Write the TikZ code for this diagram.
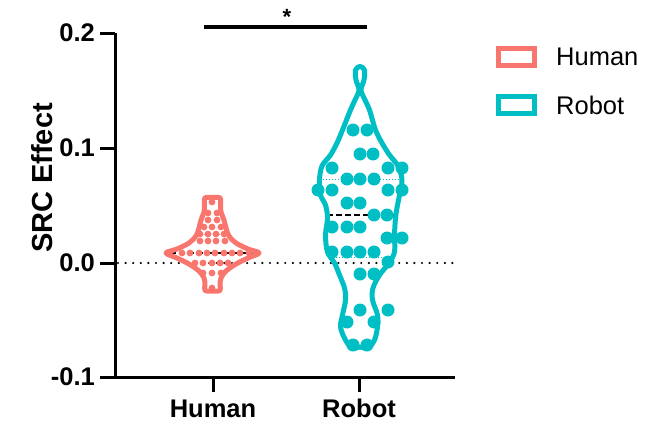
\documentclass[tikz,border=0pt]{standalone}
\usepackage{fontspec}
\setmainfont{Liberation Sans}
\definecolor{hum}{HTML}{F8766D}
\definecolor{rob}{HTML}{00BFC4}
\begin{document}
\begin{tikzpicture}[x=1pt,y=-1pt,
  axis/.style={line width=3pt,black},
  ticklab/.style={font=\fontsize{25.5}{30}\selectfont\bfseries,inner sep=0pt},
  catlab/.style={font=\fontsize{25.5}{30}\selectfont\bfseries,inner sep=0pt},
  leglab/.style={font=\fontsize{25.5}{30}\selectfont,inner sep=0pt,anchor=west},
  violin/.style={line width=5pt,line join=round},
  hdot/.style={fill=hum,draw=none},
  rdot/.style={fill=rob,draw=none},
  quart/.style={line width=1pt,dash pattern=on 1pt off 2pt},
  median/.style={line width=1.6pt,black,dash pattern=on 6pt off 3pt}]
\useasboundingbox (0,0) rectangle (658,423);
% zero line
\draw[line width=2.4pt,dash pattern=on 0pt off 7.6pt,line cap=round] (118,263) -- (455,263);
% axes
\draw[axis] (115,33) -- (115,377);
\draw[axis] (100,377) -- (455,377);
\foreach \yy/\lab in {33/0.2,148/0.1,263/0.0,377/-0.1}{
  \draw[axis] (100,\yy) -- (115,\yy);
  \node[ticklab,anchor=east] (t\yy) at (95,\yy) {\lab};
}
\draw[axis] (213,377) -- (213,392);
\draw[axis] (359,377) -- (359,392);
\node[catlab,anchor=base] (xh) at (213,417.5) {Human};
\node[catlab,anchor=base] (xr) at (359,417.5) {Robot};
\node[font=\fontsize{29}{34}\selectfont\bfseries,rotate=90,inner sep=0pt] (ylab) at (42,178) {SRC Effect};
% significance
\draw[line width=4pt] (204,27) -- (367,27);
\node[font=\fontsize{22}{26}\selectfont\bfseries,inner sep=0pt] (star) at (287,17) {*};
% legend
\draw[hum,line width=5pt] (498.5,48.5) rectangle (534.5,65.5);
\draw[rob,line width=5pt] (498.5,96.5) rectangle (534.5,113.5);
\node[leglab] (lh) at (556,57) {Human};
\node[leglab] (lr) at (556,105) {Robot};
% human violin
\draw[hum,quart] (198,234) -- (228,234);
\draw[median] (170,253) -- (256,253);
\draw[hum,violin] plot[smooth cycle,tension=0.55] coordinates {
 (212.5,197.5) (220,198) (220.5,205) (221,212) (224,220) (226,228) (229,236) (236,243) (248,249) (259,253)
 (248,258) (236,264) (226,271) (221,278) (220,285) (220,290.5) (212.5,291)
 (205,290.5) (205,285) (204,278) (199,271) (189,264) (177,258) (166,253)
 (177,249) (189,243) (196,236) (199,228) (201,220) (204,212) (204.5,205) (205,198)};
\foreach \xx/\yy in {212/202,208/213,217/213,208/220,217/220,204/227,212/227,221/227,
  200/234,208/234,216/234,224/234,200/241,208/241,216/241,225/241,
  182/253,190/253,199/253,207/253,215/253,224/253,232/253,240/253,249/253,
  195/263,203/263,212/263,220/263,228/263,203/273,212/273,221/273,212/288}
  \fill[hdot] (\xx,\yy) circle (3.4pt);
% robot violin
\draw[rob,quart] (320,179) -- (400,179);
\draw[rob,quart] (330,257) -- (390,257);
\draw[median] (327,215) -- (395,215);
\draw[rob,violin] plot[smooth cycle,tension=0.55] coordinates {
 (360,66.5) (364.5,70) (364,80) (361,90) (365,100) (369.5,110) (375.5,130) (382,143) (389.5,155)
 (398,166) (402,180) (399.5,195) (397.5,205) (395.5,218) (394.5,235) (394.5,252) (389,263)
 (379.5,275) (373,288) (372.5,300) (377.5,315) (377.5,327) (374.5,340) (368,348) (360,347)
 (352,348) (345.5,340) (340.5,327) (342.5,315) (345.5,300) (344.5,288) (339.5,275) (334.5,263)
 (327.5,252) (325.5,235) (327.5,218) (325.5,205) (320.5,195) (319.5,180) (322,166) (330.5,155)
 (337,143) (342.5,130) (350.5,110) (355,100) (359,90) (356,80) (355.5,70)};
\foreach \xx/\yy in {353/130,367/130,360/154,373/154,332/168,388/168,402/168,
  347/179,360/179,374/179,318/190,332/190,388/190,402/190,347/203,360/203,
  374/215,387/215,332/227,347/227,360/227,387/238,402/238,
  332/252,347/252,360/252,374/252,388/262,360/274,374/274,
  360/310,388/310,347/322,374/322,353/345,367/345}
  \fill[rdot] (\xx,\yy) circle (6.5pt);
\end{tikzpicture}
\end{document}
